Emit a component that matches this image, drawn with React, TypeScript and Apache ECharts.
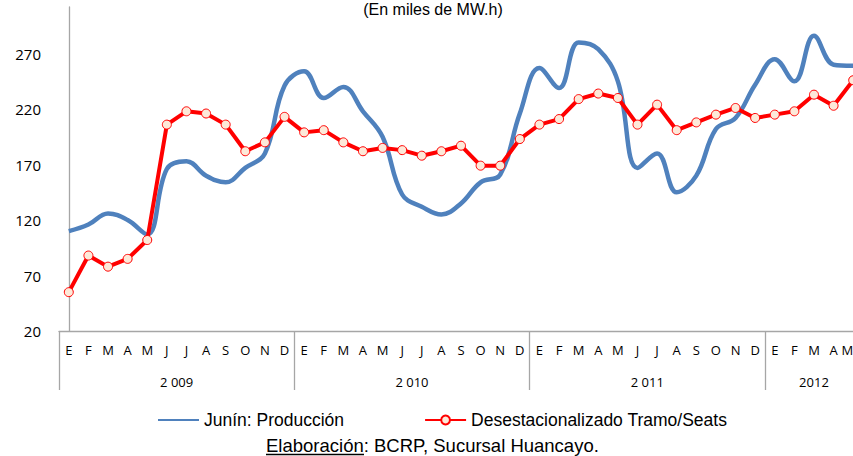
import React, { useEffect, useRef } from "react";
import * as echarts from "echarts";

const years = ["2 009", "2 010", "2 011", "2012"];
const monthsPerYear = [12, 12, 12, 5];
const monthLetters = ["E", "F", "M", "A", "M", "J", "J", "A", "S", "O", "N", "D"];

const produccion = [
  110, 116, 126, 120, 107, 166, 173, 160, 154, 167, 180, 241,
  254, 230, 240, 218, 195, 143, 132, 125, 135, 154, 161, 216,
  257, 239, 280, 274, 245, 167, 180, 145, 160, 202, 212, 242,
  265, 245, 286, 260, 259,
];

const desestacionalizado = [
  55, 88, 78, 85, 102, 206, 218, 216, 206, 182, 190, 213,
  199, 201, 190, 182, 185, 183, 178, 182, 187, 169, 169, 193,
  206, 211, 229, 234, 230, 206, 224, 201, 208, 215, 221, 212,
  215, 218, 233, 223, 246,
];

const yTicks = { min: 20, max: 312, interval: 50 };

const categories: string[] = [];
years.forEach((y, yi) => {
  for (let m = 0; m < monthsPerYear[yi]; m++) categories.push(y + "|" + monthLetters[m]);
});
const yearStarts: number[] = [];
{
  let s = 0;
  monthsPerYear.forEach((n) => {
    yearStarts.push(s);
    s += n;
  });
}
const yearCenters = yearStarts.map((s, i) => s + (monthsPerYear[i] - 1) / 2);

const GRAY = "#a6a6a6";
const SANS = "'Liberation Sans', Arial, sans-serif";
const LABEL_FONT = "'Open Sans', sans-serif";
const CLEAR = "rgba(0,0,0,0)";

export default function App() {
  const ref = useRef<HTMLDivElement>(null);
  useEffect(() => {
    if (!ref.current) return;
    const chart = echarts.init(ref.current, undefined, { renderer: "svg" });
    chart.setOption({
      animation: false,
      backgroundColor: "#ffffff",
      grid: {
        left: 59,
        top: 7,
        width: 804,
        height: 324,
        containLabel: false,
        outerBoundsMode: "none",
      },
      xAxis: [
        {
          type: "category",
          data: categories,
          boundaryGap: true,
          position: "bottom",
          axisLine: { show: true, lineStyle: { color: GRAY, width: 1.3 } },
          axisTick: {
            show: true,
            length: 59,
            interval: (i: number) => yearStarts.indexOf(i) >= 0,
            lineStyle: { color: GRAY, width: 1.3 },
          },
          axisLabel: {
            interval: 0,
            margin: 12,
            fontFamily: LABEL_FONT,
            fontSize: 13,
            color: "#000",
            alignMaxLabel: "right",
            formatter: (v: string) => v.split("|")[1],
          },
          splitLine: { show: false },
        },
        {
          type: "value",
          min: -0.5,
          max: categories.length - 0.5,
          interval: 0.5,
          position: "bottom",
          axisLine: { show: false },
          axisTick: { show: false },
          splitLine: { show: false },
          axisLabel: {
            margin: 44,
            fontFamily: LABEL_FONT,
            fontSize: 13,
            color: "#000",
            formatter: (v: number) => {
              const i = yearCenters.findIndex((c) => Math.abs(c - v) < 0.01);
              return i >= 0 ? years[i] : "";
            },
          },
        },
      ],
      yAxis: {
        type: "value",
        min: yTicks.min,
        max: yTicks.max,
        interval: yTicks.interval,
        axisLine: { show: true, lineStyle: { color: GRAY, width: 1.3 } },
        axisTick: { show: false },
        splitLine: { show: false },
        axisLabel: {
          margin: 18,
          fontFamily: LABEL_FONT,
          fontSize: 15,
          color: "#000",
          showMaxLabel: false,
        },
      },
      legend: {
        left: 152,
        top: 406,
        itemWidth: 41,
        itemHeight: 11,
        itemGap: 80,
        textStyle: { fontFamily: SANS, fontSize: 17.5, color: "#000" },
        data: [
          {
            name: "Junín: Producción",
            itemStyle: { color: CLEAR, borderColor: CLEAR, borderWidth: 0 },
          },
          { name: "Desestacionalizado Tramo/Seats" },
        ],
      },
      series: [
        {
          name: "Junín: Producción",
          type: "line",
          data: produccion,
          smooth: 0.4,
          symbol: "none",
          lineStyle: { color: "#4f81bd", width: 4.5 },
          itemStyle: { color: "#4f81bd" },
          z: 2,
        },
        {
          name: "Desestacionalizado Tramo/Seats",
          type: "line",
          data: desestacionalizado,
          smooth: false,
          symbol: "circle",
          symbolSize: 9,
          showAllSymbol: true,
          lineStyle: { color: "#ff0000", width: 4, join: "round" },
          itemStyle: { color: "#fde9d9", borderColor: "#ff0000", borderWidth: 1 },
          z: 3,
        },
      ],
      graphic: [
        {
          type: "text",
          x: 433,
          y: 1,
          style: {
            text: "(En miles de MW.h)",
            fontFamily: SANS,
            fontSize: 16,
            fill: "#000",
            align: "center",
            verticalAlign: "top",
          },
        },
        {
          type: "text",
          x: 266,
          y: 445,
          style: {
            text: "Elaboración: BCRP, Sucursal Huancayo.",
            fontFamily: SANS,
            fontSize: 18.5,
            fill: "#000",
            align: "left",
            verticalAlign: "middle",
          },
        },
        {
          type: "line",
          shape: { x1: 266, y1: 454.5, x2: 364, y2: 454.5 },
          style: { stroke: "#000", lineWidth: 1.3 },
        },
      ],
    });
    return () => chart.dispose();
  }, []);
  return <div ref={ref} style={{ width: 853, height: 456, position: "absolute", left: 0, top: 0 }} />;
}
